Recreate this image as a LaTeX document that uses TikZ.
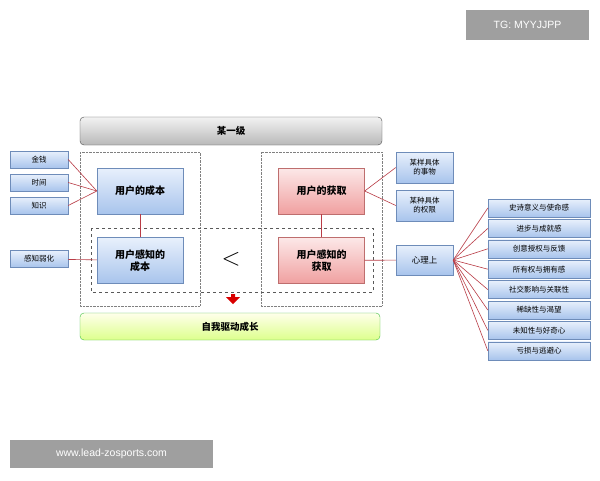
\documentclass[tikz,border=0pt]{standalone}
\usepackage{fontspec}
\setmainfont{Liberation Sans}
\newfontfamily\cjk{Noto Sans CJK SC}
\usetikzlibrary{shapes.arrows}
\definecolor{bt}{RGB}{232,240,252}
\definecolor{bb}{RGB}{168,196,236}
\definecolor{bd}{RGB}{110,140,185}
\definecolor{rt}{RGB}{252,232,232}
\definecolor{rb}{RGB}{240,160,160}
\definecolor{rd}{RGB}{190,110,110}
\definecolor{ln}{RGB}{185,60,70}
\begin{document}
\begin{tikzpicture}[x=1pt,y=-1pt,
 lnk/.style={draw=ln, line width=0.6pt},
 sm/.style={draw=bd, top color=bt, bottom color=bb, font=\cjk\fontsize{7.5}{9}\selectfont, align=center, inner sep=0pt},
 big/.style={draw=bd, top color=bt, bottom color=bb, font=\cjk\bfseries\fontsize{10}{12.5}\selectfont, align=center, minimum width=86pt, minimum height=46pt, inner sep=0pt},
 bigr/.style={big, draw=rd, top color=rt, bottom color=rb},
 lst/.style={sm, minimum width=102pt, minimum height=18pt}]
\useasboundingbox (0,0) rectangle (600,480);
\fill[white] (0,0) rectangle (600,480);
\node[fill=gray!75, text=white, minimum width=123pt, minimum height=30pt, inner sep=0pt, font=\fontsize{10.5}{12}\selectfont] (tg) at (527.5,25) {TG: MYYJJPP};
\node[fill=gray!75, text=white, minimum width=203pt, minimum height=28pt, inner sep=0pt, font=\fontsize{10.5}{12}\selectfont] (www) at (111.5,454) {www.lead-zosports.com};
\draw[gray, densely dotted] (80,152) rectangle (200,306);
\draw[gray, densely dotted] (261,152) rectangle (382,306);
\draw[gray!70!black, dashed] (91,228) rectangle (373,292);
\node[draw=gray!60!black, rounded corners=4pt, top color=gray!10, bottom color=gray!55, minimum width=302pt, minimum height=28pt, inner sep=0pt, font=\cjk\bfseries\fontsize{9.5}{11}\selectfont] (lvl) at (231,131) {某一级};
\node[draw=green!50!gray, rounded corners=4pt, top color=yellow!8, bottom color=green!30!yellow!45, minimum width=300pt, minimum height=27pt, inner sep=0pt, font=\cjk\bfseries\fontsize{9.5}{11}\selectfont] (grow) at (230,326.5) {自我驱动成长};
\node[big] (cost) at (140,191) {用户的成本};
\node[big] (pcost) at (140,260.5) {用户感知的\\成本};
\node[bigr] (gain) at (321.5,191) {用户的获取};
\node[bigr] (pgain) at (321.5,260.5) {用户感知的\\获取};
\node[font=\fontsize{28}{28}\selectfont] (lt) at (231,259) {$<$};
\node[single arrow, shape border rotate=270, fill=red!85!black, minimum width=14pt, single arrow head extend=3pt, minimum height=10pt, inner sep=1pt] (arr) at (233,298) {};
\node[sm, minimum width=58pt, minimum height=17pt] (m1) at (39,159.5) {金钱};
\node[sm, minimum width=58pt, minimum height=17pt] (m2) at (39,182.5) {时间};
\node[sm, minimum width=58pt, minimum height=17pt] (m3) at (39,205.5) {知识};
\node[sm, minimum width=58pt, minimum height=17pt] (m4) at (39,259) {感知弱化};
\node[sm, minimum width=57pt, minimum height=31pt] (r1) at (424.5,167.5) {某样具体\\的事物};
\node[sm, minimum width=57pt, minimum height=31pt] (r2) at (424.5,205.5) {某种具体\\的权限};
\node[sm, minimum width=57pt, minimum height=30pt, font=\cjk\fontsize{8.5}{10}\selectfont] (psy) at (424.5,260) {心理上};
\foreach \t [count=\i from 0] in {史诗意义与使命感,进步与成就感,创意授权与反馈,所有权与拥有感,社交影响与关联性,稀缺性与渴望,未知性与好奇心,亏损与逃避心}{
  \node[lst] (l\i) at (539,208+\i*20.4) {\t};
  \draw[lnk] (psy.east) -- (l\i.west);
}
\foreach \m in {m1,m2,m3}{\draw[lnk] (\m.east) -- (cost.west);}
\draw[lnk] (m4) -- (pcost);
\draw[lnk] (cost) -- (pcost);
\draw[lnk] (gain) -- (pgain);
\draw[lnk] (gain.east) -- (r1.west);
\draw[lnk] (gain.east) -- (r2.west);
\draw[lnk] (pgain) -- (psy);
\end{tikzpicture}
\end{document}
